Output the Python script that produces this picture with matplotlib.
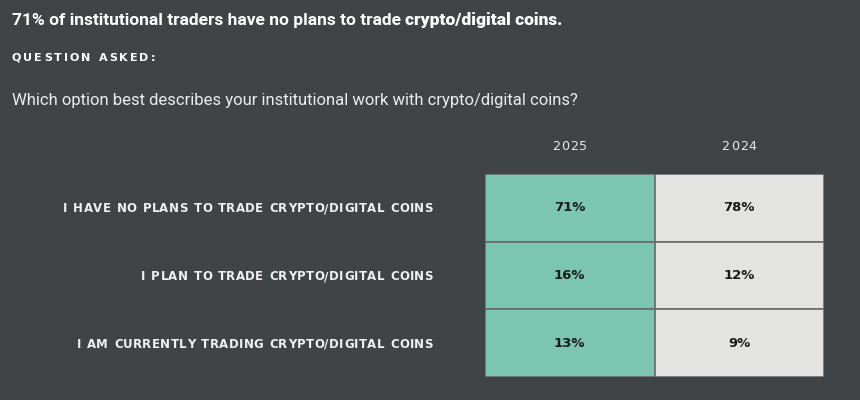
import matplotlib
matplotlib.use("Agg")
import matplotlib.pyplot as plt
from matplotlib.font_manager import FontProperties, findfont, get_font

# data
years = ["2025", "2024"]
answers = [
    "I HAVE NO PLANS TO TRADE CRYPTO/DIGITAL COINS",
    "I PLAN TO TRADE CRYPTO/DIGITAL COINS",
    "I AM CURRENTLY TRADING CRYPTO/DIGITAL COINS",
]
share_2025 = [71, 16, 13]
share_2024 = [78, 12, 9]

title_plain = "71% of institutional traders have no plans to trade "
title_bold = "crypto/digital coins."
question = "Which option best describes your institutional work with crypto/digital coins?"

bg = "#404446"
col_colors = ["#7cc5af", "#e3e3e1"]
W, H = 860, 400
DPI = 100

fig = plt.figure(figsize=(8.6, 4.0), dpi=DPI, facecolor=bg)


def advances(s, prop):
    # glyph advance widths in pixels, straight from the font file
    font = get_font(findfont(prop))
    font.set_size(prop.get_size_in_points(), DPI)
    return [font.load_char(ord(c)).linearHoriAdvance / 65536 for c in s]


def tracked(x, y, s, track, prop, ha="left", space_extra=0.0, **kw):
    # draw text letter by letter with extra spacing, x/y in pixels from top-left
    widths = [w + track + (space_extra if c == " " else 0) for c, w in zip(s, advances(s, prop))]
    total = sum(widths) - track
    if ha == "right":
        x = x - total
    elif ha == "center":
        x = x - total / 2
    for c, w in zip(s, widths):
        if c != " ":
            fig.text(x / W, 1 - y / H, c, fontproperties=prop, ha="left", va="center", **kw)
        x += w


# header texts
p_title = FontProperties(family="Roboto", weight="bold", size=12.5)
fig.text(12 / W, 1 - 20 / H, title_plain, color="white", fontproperties=p_title,
         va="center", ha="left")
fig.text((12 + sum(advances(title_plain, p_title))) / W, 1 - 20 / H, title_bold, color="white",
         fontproperties=FontProperties(family="Roboto", weight="black", size=12.5),
         va="center", ha="left")

tracked(12, 58, "QUESTION ASKED:", 2.0,
        FontProperties(family="DejaVu Sans", weight="bold", size=8), color="white")

fig.text(12 / W, 1 - 100 / H, question, color="#ececec",
         fontproperties=FontProperties(family="Roboto", weight="normal", size=12.0),
         va="center", ha="left")

# table axes
left, right, top, bottom = 485, 824, 174, 377
ax = fig.add_axes([left / W, 1 - bottom / H, (right - left) / W, (bottom - top) / H])
ax.set_facecolor(bg)
ax.set_xlim(0, 2)
ax.set_ylim(len(answers), 0)
ax.axis("off")

rows = range(len(answers))
row_h = (bottom - top) / len(answers)
p_head = FontProperties(family="DejaVu Sans", size=9.2)
for j, vals in enumerate([share_2025, share_2024]):
    ax.barh([r + 0.5 for r in rows], 1, left=j, height=1, color=col_colors[j],
            edgecolor="#6a6d6d", linewidth=1.2)
    for r, v in zip(rows, vals):
        ax.text(j + 0.5, r + 0.5, f"{v}%", ha="center", va="center",
                fontsize=9.5, fontweight="bold", color="#1a1a1a")
    col_x = left + (j + 0.5) * (right - left) / len(years)
    tracked(col_x, 146, years[j], 1.0, p_head, ha="center", color="#e8e8e8")

p_lab = FontProperties(family="DejaVu Sans", weight="bold", size=8.5)
for r, lab in zip(rows, answers):
    tracked(433, top + (r + 0.5) * row_h + 1, lab, 0.4, p_lab, ha="right",
            space_extra=1.0, color="#f0f0f0")

fig.savefig("out.png", dpi=DPI, facecolor=bg)
